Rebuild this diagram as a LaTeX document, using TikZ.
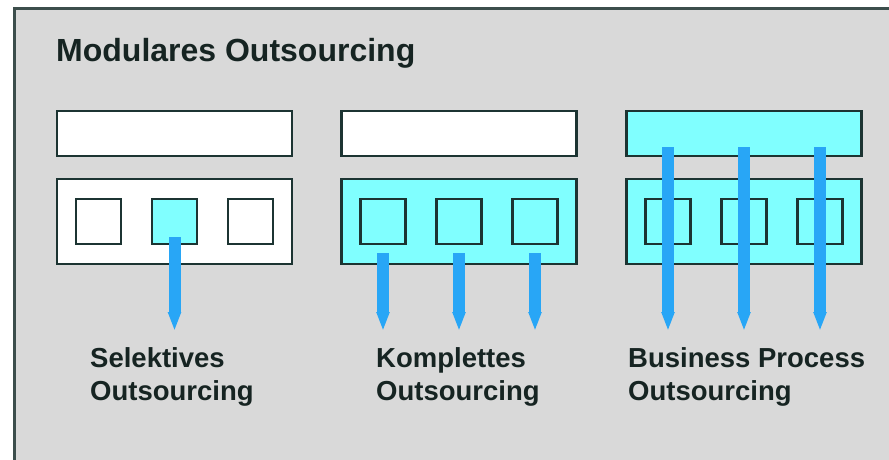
\documentclass[tikz,border=0pt]{standalone}
\usepackage{fontspec}
\setmainfont{Liberation Sans}
\usetikzlibrary{arrows.meta}
\definecolor{panelgrey}{RGB}{217,217,217}
\definecolor{edge}{RGB}{28,52,50}
\definecolor{lightcyan}{RGB}{128,255,255}
\definecolor{flowblue}{RGB}{40,166,246}
\definecolor{frameline}{RGB}{60,78,76}
\definecolor{inktext}{RGB}{22,36,34}
\begin{document}
\begin{tikzpicture}[x=1pt,y=-1pt,
  bar/.style={draw=edge, line width=2.5pt, fill=white, minimum width=235pt, minimum height=45pt, inner sep=0pt},
  tray/.style={draw=edge, line width=2.5pt, fill=white, minimum width=235pt, minimum height=85pt, inner sep=0pt},
  cell/.style={draw=edge, line width=2.5pt, fill=white, minimum width=45pt, minimum height=45pt, inner sep=0pt},
  on/.style={fill=lightcyan},
  flow/.style={draw=flowblue, line width=12pt, -{Triangle[width=12pt,length=19pt]}},
  heading/.style={font=\bfseries\fontsize{32}{38}\selectfont, text=inktext, inner sep=0pt, anchor=base west},
  caption/.style={font=\bfseries\fontsize{27.5}{33}\selectfont, text=inktext, align=left, inner sep=0pt, anchor=base west},
]
\useasboundingbox (0,0) rectangle (889,459);
\clip (0,0) rectangle (889,459);

% outer panel
\fill[white] (0,0) rectangle (889,459);
\fill[panelgrey] (14,8) rectangle (900,470);
\draw[frameline, line width=3pt] (900,8) -- (14,8) -- (14,470);

\node[heading] (title) at (56,61) {Modulares Outsourcing};

% selective outsourcing
\node[bar]  (b1) at (174.5,133.5) {};
\node[tray] (r1) at (174.5,221.5) {};
\node[cell]     (c11) at (98.5,221.5) {};
\node[cell,on]  (c12) at (174.5,221.5) {};
\node[cell]     (c13) at (250.5,221.5) {};

% complete outsourcing
\node[bar]     (b2) at (459,133.5) {};
\node[tray,on] (r2) at (459,221.5) {};
\node[cell,on] (c21) at (383,221.5) {};
\node[cell,on] (c22) at (459,221.5) {};
\node[cell,on] (c23) at (535,221.5) {};

% business process outsourcing
\node[bar,on]  (b3) at (744,133.5) {};
\node[tray,on] (r3) at (744,221.5) {};
\node[cell,on] (c31) at (668,221.5) {};
\node[cell,on] (c32) at (744,221.5) {};
\node[cell,on] (c33) at (820,221.5) {};

% arrow start and tip points
\coordinate (s12) at (174.5,237);
\coordinate (t12) at (174.5,331);
\coordinate (s21) at (383,253);
\coordinate (t21) at (383,331);
\coordinate (s22) at (459,253);
\coordinate (t22) at (459,331);
\coordinate (s23) at (535,253);
\coordinate (t23) at (535,331);
\coordinate (s31) at (668,147);
\coordinate (t31) at (668,331);
\coordinate (s32) at (744,147);
\coordinate (t32) at (744,331);
\coordinate (s33) at (820,147);
\coordinate (t33) at (820,331);

\draw[flow] (s12) -- (t12);
\draw[flow] (s21) -- (t21);
\draw[flow] (s22) -- (t22);
\draw[flow] (s23) -- (t23);
\draw[flow] (s31) -- (t31);
\draw[flow] (s32) -- (t32);
\draw[flow] (s33) -- (t33);

% captions (base anchor sits on the last line)
\node[caption] (l1) at (90,400)  {Selektives\\Outsourcing};
\node[caption] (l2) at (376,400) {Komplettes\\Outsourcing};
\node[caption] (l3) at (628,400) {Business Process\\Outsourcing};
\end{tikzpicture}
\end{document}
